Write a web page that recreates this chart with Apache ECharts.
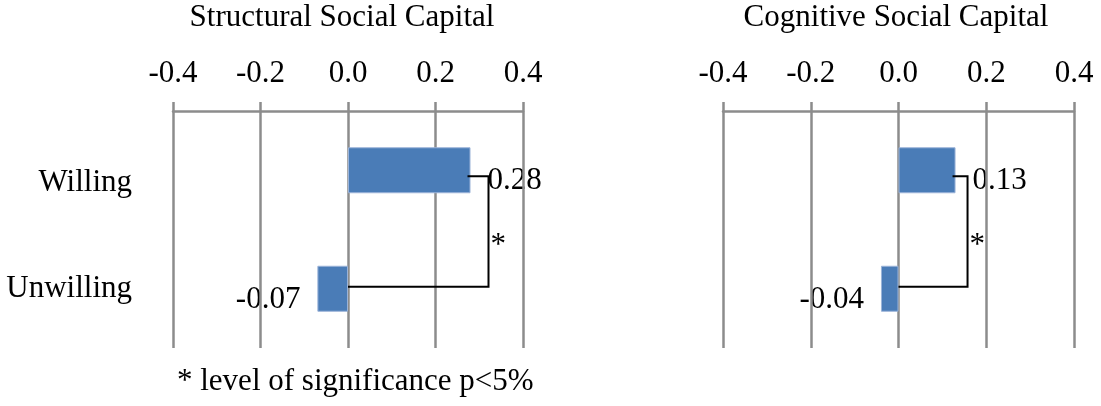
<!DOCTYPE html>
<html>
<head>
<meta charset="utf-8">
<script src="https://cdn.jsdelivr.net/npm/echarts@6/dist/echarts.min.js"></script>
<style>
  html, body { margin: 0; padding: 0; background: #fff; }
  #chart { width: 1101px; height: 406px; }
</style>
</head>
<body>
<div id="chart"></div>
<script>
// data
const categories = ['Willing', 'Unwilling'];
const panelTitles = ['Structural Social Capital', 'Cognitive Social Capital'];
const structuralValues = [0.28, -0.07];
const cognitiveValues = [0.13, -0.04];
const axisMin = -0.4;
const axisMax = 0.4;
const axisStep = 0.2;
const sigMark = '*';
const footnote = '* level of significance p<5%';

const panels = [structuralValues, cognitiveValues];
const bracketGap = [18, 12]; // 括号离柱端的距离 px

const FONT = "'Liberation Serif', 'Times New Roman', serif";
const barColor = '#4a7cb7';
const gridGray = '#8c8c8c';

const chart = echarts.init(document.getElementById('chart'), null, {renderer: 'canvas'});

// 显著性括号
const bracketSeries = (idx) => ({
  type: 'custom',
  xAxisIndex: idx,
  yAxisIndex: idx,
  z: 5,
  silent: true,
  dimensions: [{name: 'a', type: 'float'}, {name: 'ai', type: 'ordinal'}, {name: 'b', type: 'float'}, {name: 'bi', type: 'ordinal'}],
  encode: {x: [0, 2], y: [1, 3]},
  data: [[panels[idx][0], 0, panels[idx][1], 1]],
  renderItem: (params, api) => {
    const top = api.coord([Math.max(api.value(0), 0), 0]);
    const bot = api.coord([Math.max(api.value(2), 0), 1]);
    const xv = top[0] + bracketGap[idx];
    const yTop = top[1] + 6;
    const yBot = bot[1] - 2;
    return {
      type: 'group',
      children: [{
        type: 'polyline',
        shape: {points: [[top[0] - 3, yTop], [xv, yTop], [xv, yBot], [bot[0], yBot]]},
        style: {stroke: '#000', lineWidth: 2, fill: null}
      }, {
        type: 'text',
        x: xv + 2,
        y: (yTop + yBot) / 2 + 14,
        style: {text: sigMark, font: "31px 'Liberation Serif'", fill: '#000', align: 'left', verticalAlign: 'middle'}
      }]
    };
  }
});

const barSeries = (idx) => ({
  type: 'bar',
  xAxisIndex: idx,
  yAxisIndex: idx,
  barWidth: 46,
  z: 2,
  itemStyle: {color: barColor, borderColor: '#9bb3d8', borderWidth: 1},
  data: panels[idx]
});

// 数值标签放在网格线下面
const labelSeries = (idx) => ({
  type: 'scatter',
  xAxisIndex: idx,
  yAxisIndex: idx,
  z: -1,
  symbolSize: 0,
  silent: true,
  itemStyle: {opacity: 1},
  label: {
    show: true,
    fontFamily: FONT,
    fontSize: 31,
    color: '#000',
    distance: 17,
    offset: [0, 11],
    formatter: (p) => p.value[0].toFixed(2)
  },
  data: panels[idx].map((v, i) => ({value: [v, i], label: {position: v < 0 ? 'left' : 'right'}}))
});

const xAxisFor = (idx) => ({
  type: 'value',
  gridIndex: idx,
  position: 'top',
  min: axisMin,
  max: axisMax,
  interval: axisStep,
  z: 0,
  axisLine: {show: true, lineStyle: {color: gridGray, width: 2.5}},
  axisTick: {show: true, length: 9, lineStyle: {color: gridGray, width: 2.5}},
  splitLine: {show: true, lineStyle: {color: gridGray, width: 2.5}},
  axisLabel: {
    fontFamily: FONT,
    fontSize: 31,
    color: '#000',
    margin: 22,
    formatter: (v) => v.toFixed(1)
  }
});

const yAxisFor = (idx) => ({
  type: 'category',
  gridIndex: idx,
  inverse: true,
  data: categories,
  axisLine: {show: false},
  axisTick: {show: false},
  splitLine: {show: false},
  axisLabel: {
    show: idx === 0,
    fontFamily: FONT,
    fontSize: 31,
    color: '#000',
    margin: 41,
    formatter: (v) => v === 'Willing' ? '{lo|' + v + '}' : v,
    rich: {lo: {fontFamily: FONT, fontSize: 31, color: '#000', padding: [26, 0, 0, 0]}}
  }
});

chart.setOption({
  animation: false,
  backgroundColor: '#fff',
  title: [
    {text: panelTitles[0], left: 342, top: 2, textAlign: 'center', padding: 0,
      textStyle: {fontFamily: FONT, fontSize: 31, fontWeight: 'normal', color: '#000'}},
    {text: panelTitles[1], left: 896, top: 2, textAlign: 'center', padding: 0,
      textStyle: {fontFamily: FONT, fontSize: 31, fontWeight: 'normal', color: '#000'}},
    {text: footnote, left: 177, top: 366, padding: 0,
      textStyle: {fontFamily: FONT, fontSize: 31, fontWeight: 'normal', color: '#000'}}
  ],
  grid: [
    {left: 173, top: 111, width: 350, height: 237},
    {left: 723, top: 111, width: 351, height: 237}
  ],
  xAxis: [xAxisFor(0), xAxisFor(1)],
  yAxis: [yAxisFor(0), yAxisFor(1)],
  series: [labelSeries(0), labelSeries(1), barSeries(0), barSeries(1), bracketSeries(0), bracketSeries(1)]
});
</script>
</body>
</html>
